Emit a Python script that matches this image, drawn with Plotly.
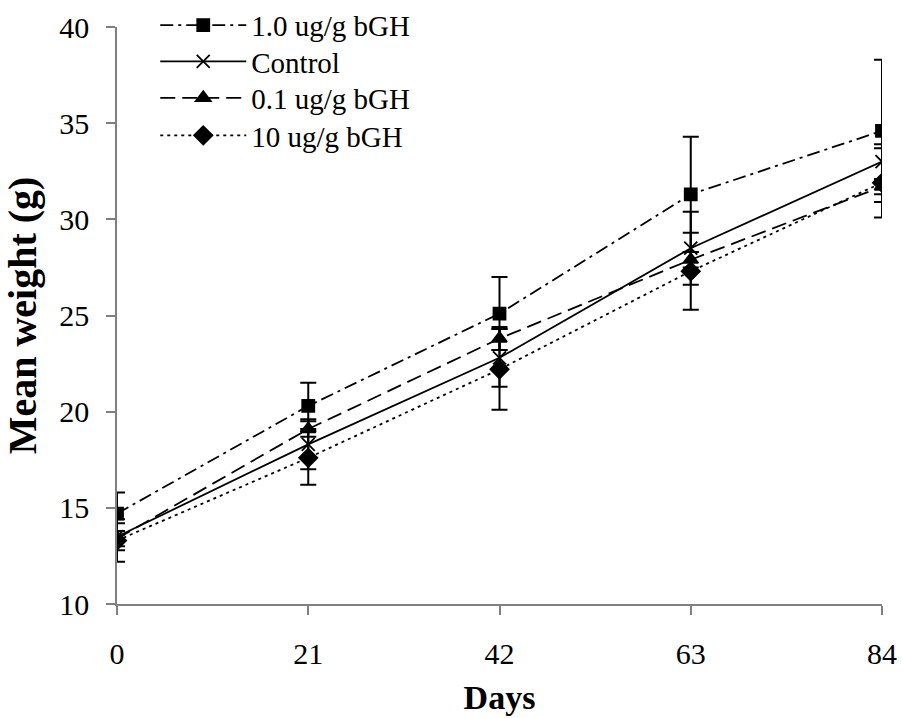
import plotly.graph_objects as go

days = [0, 21, 42, 63, 84]

names = ["1.0 ug/g bGH", "Control", "0.1 ug/g bGH", "10 ug/g bGH"]
w_10 = [14.7, 20.3, 25.1, 31.3, 34.6]
err_10 = [1.1, 1.2, 1.9, 3.0, 3.7]
w_ctrl = [13.5, 18.3, 22.8, 28.5, 33.0]
err_ctrl = [0.7, 1.3, 1.5, 1.9, 0.9]
w_01 = [13.4, 19.1, 23.8, 27.9, 31.7]
err_01 = [0.4, 0.4, 0.6, 0.4, 0.4]
w_100 = [13.3, 17.6, 22.2, 27.3, 31.9]
err_100 = [1.1, 1.4, 2.1, 2.0, 1.8]

yticks = [10, 15, 20, 25, 30, 35, 40]
xticks = [0, 21, 42, 63, 84]

series = [
    (names[0], w_10, err_10, "13px,5px,3px,5px", "square", 12),
    (names[1], w_ctrl, err_ctrl, "solid", "x-thin-open", 13),
    (names[2], w_01, err_01, "15px,7px", "triangle-up", 13),
    (names[3], w_100, err_100, "3px,4px", "diamond", 14),
]

legend_ids = ["legend", "legend2", "legend3", "legend4"]
legend_rows = [1.003, 0.940, 0.877, 0.812]

font_family = "Liberation Serif"

fig = go.Figure()
for (nm, ys, es, dash, sym, sz), lid in zip(series, legend_ids):
    fig.add_trace(go.Scatter(
        x=days, y=ys, name=nm, mode="lines+markers", legend=lid,
        line=dict(color="black", width=1.8, dash=dash),
        marker=dict(symbol=sym, size=sz, color="black",
                    line=dict(color="black", width=1.8)),
        error_y=dict(type="data", array=es, visible=True,
                     color="black", thickness=2, width=8),
    ))

legend_layout = {}
for lid, ly in zip(legend_ids, legend_rows):
    legend_layout[lid] = dict(x=0.05, y=ly, xanchor="left", yanchor="middle",
                              bgcolor="rgba(0,0,0,0)", itemwidth=86,
                              font=dict(family=font_family, size=29))

fig.update_layout(
    width=902, height=718,
    margin=dict(l=117, r=20, t=27, b=114, autoexpand=False),
    plot_bgcolor="white", paper_bgcolor="white",
    font=dict(family=font_family, size=30, color="black"),
    showlegend=True,
    **legend_layout,
    xaxis=dict(range=[0, 84], tickvals=xticks, showgrid=False, zeroline=False,
               showline=True, linecolor="#808080", linewidth=1.5,
               ticks="outside", ticklen=9, tickcolor="#808080", tickwidth=1.5,
               ticklabelstandoff=13,
               title=dict(text="<b>Days</b>", font=dict(size=34), standoff=16)),
    yaxis=dict(range=[10, 40], tickvals=yticks, showgrid=False, zeroline=False,
               showline=True, linecolor="#808080", linewidth=1.5,
               ticks="outside", ticklen=9, tickcolor="#808080", tickwidth=1.5,
               ticklabelstandoff=11,
               title=dict(text="<b>Mean weight (g)</b>", font=dict(size=40), standoff=14)),
)
fig.write_html("out.html")
